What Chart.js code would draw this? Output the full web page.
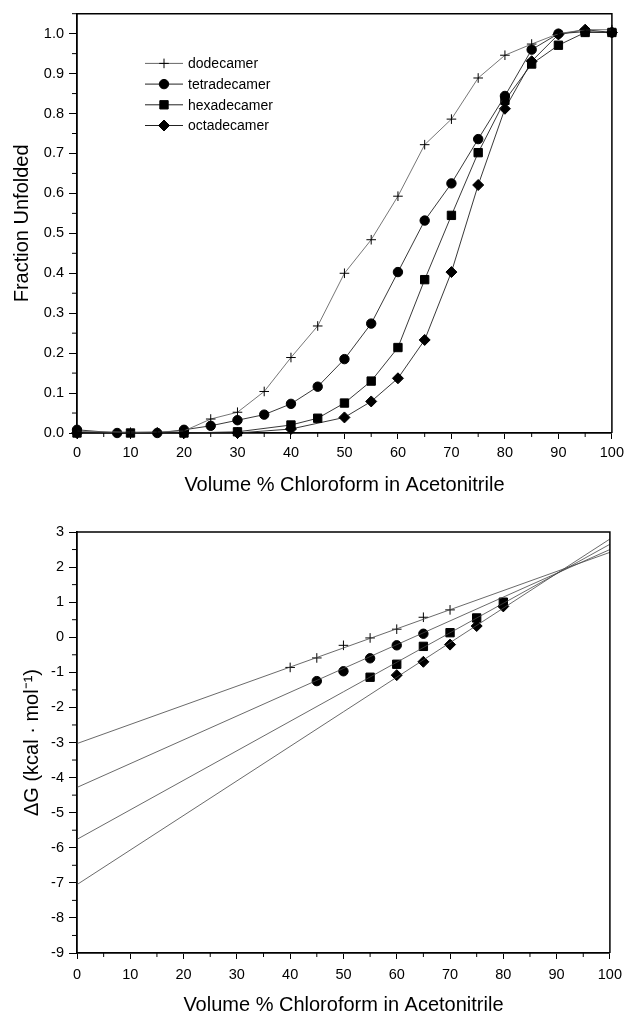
<!DOCTYPE html>
<html>
<head>
<meta charset="utf-8">
<script src="https://cdn.jsdelivr.net/npm/chart.js@4/dist/chart.umd.min.js"></script>
<style>
html,body{margin:0;padding:0;background:#fff;overflow:hidden;width:629px;height:1013px}
#w1{position:absolute;left:0;top:0;width:629px;height:500px}
#w2{position:absolute;left:0;top:500px;width:629px;height:520px}
</style>
</head>
<body>
<div id="w1"><canvas id="c1"></canvas></div>
<div id="w2"><canvas id="c2"></canvas></div>
<script>
// ---------- data ----------
const seriesNames = ['dodecamer', 'tetradecamer', 'hexadecamer', 'octadecamer'];

// Top panel: fraction unfolded vs volume % chloroform
const dodecamerX = [0, 10, 15, 20, 25, 30, 35, 40, 45, 50, 55, 60, 65, 70, 75, 80, 85, 90, 95, 100];
const dodecamerY = [0.004, 0.002, 0.003, 0.005, 0.035, 0.052, 0.104, 0.189, 0.268, 0.400, 0.484, 0.593, 0.722, 0.786, 0.889, 0.946, 0.974, 1.000, 1.010, 1.010];

const tetradecamerX = [0, 7.5, 15, 20, 25, 30, 35, 40, 45, 50, 55, 60, 65, 70, 75, 80, 85, 90, 95, 100];
const tetradecamerY = [0.008, 0.0, 0.0, 0.008, 0.018, 0.032, 0.046, 0.073, 0.116, 0.185, 0.274, 0.403, 0.532, 0.625, 0.736, 0.844, 0.960, 1.000, 1.005, 1.003];

const hexadecamerX = [0, 10, 20, 30, 40, 45, 50, 55, 60, 65, 70, 75, 80, 85, 90, 95, 100];
const hexadecamerY = [0.0, 0.0, 0.0, 0.003, 0.020, 0.037, 0.075, 0.130, 0.214, 0.384, 0.545, 0.702, 0.833, 0.924, 0.971, 1.003, 1.003];

const octadecamerX = [0, 20, 30, 40, 50, 55, 60, 65, 70, 75, 80, 85, 90, 95, 100];
const octadecamerY = [0.0, 0.0, 0.0, 0.010, 0.039, 0.079, 0.137, 0.233, 0.403, 0.621, 0.812, 0.931, 0.998, 1.010, 1.003];

// Bottom panel: ΔG points
const dodecamerGX = [40, 45, 50, 55, 60, 65, 70];
const dodecamerGY = [-0.86, -0.59, -0.23, -0.02, 0.23, 0.57, 0.78];
const tetradecamerGX = [45, 50, 55, 60, 65];
const tetradecamerGY = [-1.25, -0.97, -0.60, -0.23, 0.10];
const hexadecamerGX = [55, 60, 65, 70, 75, 80];
const hexadecamerGY = [-1.14, -0.77, -0.26, 0.13, 0.55, 1.00];
const octadecamerGX = [60, 65, 70, 75, 80];
const octadecamerGY = [-1.08, -0.70, -0.21, 0.32, 0.88];

// Bottom panel: linear fits (values at x = 0 and x = 100)
const fitX = [0, 100];
const dodecamerFit = [-3.03, 2.42];
const tetradecamerFit = [-4.28, 2.50];
const hexadecamerFit = [-5.76, 2.65];
const octadecamerFit = [-7.05, 2.80];

// tick labels
const xTickStep = 10, xMinorStep = 5;
const topYStep = 0.1, topYMinor = 0.05;
const botYStep = 1, botYMinor = 0.5;

// ---------- helpers ----------
const pts = (xs, ys) => xs.map((x, i) => ({x: x, y: ys[i]}));
const FONT = '"Liberation Sans", Arial, Helvetica, sans-serif';
const TICK_SIZE = 14.5, TITLE_SIZE = 20;
const markerStyles = [
  {pointStyle: 'cross', radius: 4.8, borderWidth: 1, line: '#666'},
  {pointStyle: 'circle', radius: 4.7, borderWidth: 1, line: '#222'},
  {pointStyle: 'rect', radius: 5.9, borderWidth: 1, line: '#222'},
  {pointStyle: 'rectRot', radius: 5.5, borderWidth: 1, line: '#222'}
];

const framePlugin = {
  id: 'frame',
  afterDatasetsDraw(chart) {
    const {ctx, chartArea: a} = chart;
    ctx.save();
    ctx.strokeStyle = '#000';
    ctx.lineWidth = 1.5;
    ctx.beginPath();
    ctx.moveTo(a.left, a.top);
    ctx.lineTo(a.right, a.top);
    ctx.lineTo(a.right, a.bottom);
    ctx.stroke();
    ctx.restore();
  }
};

const minorTickPlugin = {
  id: 'minorTicks',
  afterDraw(chart, args, opts) {
    const ctx = chart.ctx;
    ctx.save();
    ctx.strokeStyle = '#000';
    ctx.lineWidth = 1;
    for (const id of Object.keys(opts.scales || {})) {
      const cfg = opts.scales[id];
      const s = chart.scales[id];
      const n = Math.round((s.max - s.min) / cfg.step);
      for (let i = 0; i <= n; i++) {
        const v = s.min + i * cfg.step;
        if (v > s.max + 1e-9) continue;
        const r = v / cfg.major;
        if (Math.abs(r - Math.round(r)) < 1e-6) continue;
        ctx.beginPath();
        if (s.isHorizontal()) {
          const px = s.getPixelForValue(v);
          ctx.moveTo(px, s.top);
          ctx.lineTo(px, s.top + cfg.len);
        } else {
          const py = s.getPixelForValue(v);
          ctx.moveTo(s.right - cfg.len, py);
          ctx.lineTo(s.right, py);
        }
        ctx.stroke();
      }
    }
    ctx.restore();
  }
};

const legendPlugin = {
  id: 'lineLegend',
  afterDraw(chart, args, opts) {
    if (!opts.show) return;
    const {ctx, chartArea: a} = chart;
    ctx.save();
    ctx.font = '14px ' + FONT;
    ctx.textBaseline = 'middle';
    ctx.textAlign = 'left';
    seriesNames.forEach((name, i) => {
      const y = a.top + 49.7 + i * 20.7;
      const ms = markerStyles[i];
      ctx.strokeStyle = ms.line;
      ctx.lineWidth = 1;
      ctx.beginPath();
      ctx.moveTo(a.left + 68, y);
      ctx.lineTo(a.left + 106, y);
      ctx.stroke();
      ctx.fillStyle = '#000';
      ctx.strokeStyle = '#000';
      ctx.lineWidth = ms.borderWidth;
      Chart.helpers.drawPoint(ctx, {pointStyle: ms.pointStyle, radius: ms.radius, rotation: 0, borderWidth: ms.borderWidth}, a.left + 87, y);
      ctx.fillStyle = '#000';
      ctx.fillText(name, a.left + 111, y + 1);
    });
    ctx.restore();
  }
};

function xScale(tickPad) {
  return {
    type: 'linear', min: 0, max: 100,
    afterFit: s => { s.height = s.chart.height - (s.chart.canvas.id === 'c1' ? 433 : 453); },
    border: {display: true, color: '#000', width: 1.8},
    grid: {display: true, drawOnChartArea: false, drawTicks: true, tickLength: 6, tickColor: '#000', tickWidth: 1, color: '#000'},
    ticks: {stepSize: xTickStep, autoSkip: false, maxRotation: 0, padding: tickPad, color: '#000', font: {family: FONT, size: TICK_SIZE}, callback: v => String(v)},
    title: {display: true, text: 'Volume % Chloroform in Acetonitrile', color: '#000', font: {family: FONT, size: TITLE_SIZE}, padding: {top: 0, bottom: 3}}
  };
}

// ---------- top chart ----------
const topData = [[dodecamerX, dodecamerY], [tetradecamerX, tetradecamerY], [hexadecamerX, hexadecamerY], [octadecamerX, octadecamerY]];
new Chart(document.getElementById('c1'), {
  type: 'line',
  data: {
    datasets: topData.map((d, i) => ({
      label: seriesNames[i],
      data: pts(d[0], d[1]),
      borderColor: markerStyles[i].line,
      borderWidth: 0.9,
      tension: 0,
      fill: false,
      clip: false,
      pointStyle: markerStyles[i].pointStyle,
      pointRadius: markerStyles[i].radius,
      pointBackgroundColor: '#000',
      pointBorderColor: '#000',
      pointBorderWidth: markerStyles[i].borderWidth
    }))
  },
  options: {
    responsive: true, maintainAspectRatio: false, animation: false,
    layout: {padding: {top: 12, right: 13, left: 0, bottom: 0}},
    plugins: {
      legend: {display: false}, tooltip: {enabled: false},
      lineLegend: {show: true},
      minorTicks: {scales: {x: {step: xMinorStep, major: xTickStep, len: 4}, y: {step: topYMinor, major: topYStep, len: 5}}}
    },
    scales: {
      x: xScale(5),
      y: {
        type: 'linear', min: 0, max: 1.05,
        afterFit: s => { s.width = 77; },
        border: {display: true, color: '#000', width: 1.8},
        grid: {display: true, drawOnChartArea: false, drawTicks: true, tickLength: 8, tickColor: '#000', tickWidth: 1},
        ticks: {stepSize: topYStep, includeBounds: false, autoSkip: false, padding: 5, color: '#000', font: {family: FONT, size: TICK_SIZE}, callback: v => v.toFixed(1)},
        title: {display: true, text: 'Fraction Unfolded', color: '#000', font: {family: FONT, size: TITLE_SIZE}, padding: {top: 10, bottom: 0}}
      }
    }
  },
  plugins: [framePlugin, minorTickPlugin, legendPlugin]
});

// ---------- bottom chart ----------
const botPts = [[dodecamerGX, dodecamerGY], [tetradecamerGX, tetradecamerGY], [hexadecamerGX, hexadecamerGY], [octadecamerGX, octadecamerGY]];
const botFits = [dodecamerFit, tetradecamerFit, hexadecamerFit, octadecamerFit];
const botDatasets = [];
botFits.forEach((f, i) => {
  botDatasets.push({
    label: seriesNames[i] + ' fit',
    data: pts(fitX, f),
    borderColor: '#444', borderWidth: 0.8, tension: 0, fill: false, clip: false,
    pointRadius: 0, showLine: true
  });
});
botPts.forEach((d, i) => {
  botDatasets.push({
    label: seriesNames[i],
    data: pts(d[0], d[1]),
    showLine: false, clip: false,
    pointStyle: markerStyles[i].pointStyle,
    pointRadius: markerStyles[i].radius,
    pointBackgroundColor: '#000',
    pointBorderColor: '#000',
    pointBorderWidth: markerStyles[i].borderWidth
  });
});
new Chart(document.getElementById('c2'), {
  type: 'scatter',
  data: {datasets: botDatasets},
  options: {
    responsive: true, maintainAspectRatio: false, animation: false,
    layout: {padding: {top: 32, right: 13, left: 0, bottom: 0}},
    plugins: {
      legend: {display: false}, tooltip: {enabled: false},
      minorTicks: {scales: {x: {step: xMinorStep, major: xTickStep, len: 4}, y: {step: botYMinor, major: botYStep, len: 5}}}
    },
    scales: {
      x: xScale(7),
      y: {
        type: 'linear', min: -9, max: 3,
        afterFit: s => { s.width = 77; },
        border: {display: true, color: '#000', width: 1.8},
        grid: {display: true, drawOnChartArea: false, drawTicks: true, tickLength: 8, tickColor: '#000', tickWidth: 1},
        ticks: {stepSize: botYStep, autoSkip: false, padding: 5, color: '#000', font: {family: FONT, size: TICK_SIZE}, callback: v => String(v)},
        title: {display: true, text: 'ΔG (kcal · mol⁻¹)', color: '#000', font: {family: FONT, size: TITLE_SIZE}, padding: {top: 20, bottom: 0}}
      }
    }
  },
  plugins: [framePlugin, minorTickPlugin]
});
</script>
</body>
</html>
